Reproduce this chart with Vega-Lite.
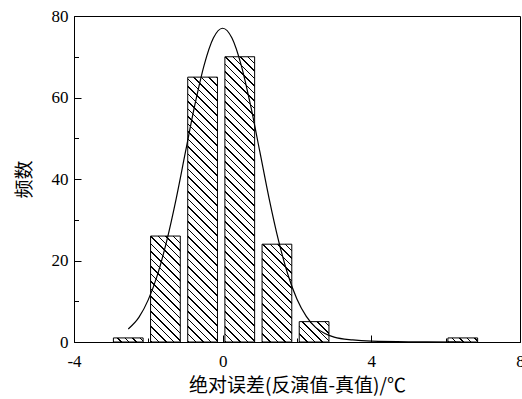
{
  "$schema": "https://vega.github.io/schema/vega-lite/v6.json",
  "width": 446,
  "height": 326,
  "autosize": {"type": "none"},
  "padding": {"left": 74, "top": 16, "right": 2, "bottom": 57},
  "background": "white",
  "config": {
    "view": {"stroke": "black", "strokeWidth": 1},
    "axis": {"grid": false, "domainColor": "black", "domainWidth": 1, "tickColor": "black", "tickWidth": 1, "labelColor": "black", "labelFont": "Liberation Serif, Times New Roman, serif", "labelFontSize": 17, "titleFont": "Noto Sans CJK SC", "titleFontSize": 19, "titleFontWeight": "normal", "titleColor": "black", "labelOverlap": false, "labelBound": false, "labelFlush": false}
  },
  "datasets": {
    "bars": [
      {"start": -2.94, "end": -2.14, "count": 1},
      {"start": -1.94, "end": -1.14, "count": 26},
      {"start": -0.94, "end": -0.14, "count": 65},
      {"start": 0.06, "end": 0.86, "count": 70},
      {"start": 1.06, "end": 1.86, "count": 24},
      {"start": 2.06, "end": 2.86, "count": 5},
      {"start": 6.06, "end": 6.86, "count": 1}
    ],
    "curve": [
      {"x": -2.54, "y": 3.2}, {"x": -2.25, "y": 6.1}, {"x": -2.0, "y": 10.4}, {"x": -1.75, "y": 16.6},
      {"x": -1.5, "y": 25.0}, {"x": -1.25, "y": 35.2}, {"x": -1.0, "y": 46.7}, {"x": -0.75, "y": 58.1},
      {"x": -0.5, "y": 67.9}, {"x": -0.25, "y": 74.6}, {"x": 0, "y": 77}, {"x": 0.25, "y": 74.6},
      {"x": 0.5, "y": 67.9}, {"x": 0.75, "y": 58.1}, {"x": 1.0, "y": 46.7}, {"x": 1.25, "y": 35.2},
      {"x": 1.5, "y": 25.0}, {"x": 1.75, "y": 16.7}, {"x": 2.0, "y": 10.5}, {"x": 2.25, "y": 6.3},
      {"x": 2.5, "y": 3.6}, {"x": 2.75, "y": 2.1}, {"x": 3.0, "y": 1.2}, {"x": 3.5, "y": 0.5},
      {"x": 4.0, "y": 0.2}, {"x": 5.0, "y": 0.05}, {"x": 6.4, "y": 0}
    ]
  },
  "layer": [
    {
      "data": {"name": "bars"},
      "mark": {"type": "rect", "stroke": "black", "strokeWidth": 1},
      "encoding": {
        "x": {"field": "start", "type": "quantitative", "scale": {"domain": [-4, 8], "nice": false, "zero": false},
          "axis": {"orient": "bottom", "values": [-4, 0, 4, 8], "tickSize": -7, "labelPadding": 18, "labelExpr": "'' + datum.value", "title": "绝对误差(反演值-真值)/℃", "titleX": 223, "titleY": 43, "titleBaseline": "middle", "titleAlign": "center", "titleAnchor": null}},
        "x2": {"field": "end"},
        "y": {"field": "count", "type": "quantitative", "scale": {"domain": [0, 80], "nice": false},
          "axis": {"orient": "left", "values": [0, 20, 40, 60, 80], "tickSize": -7, "labelPadding": 13, "labelExpr": "'' + datum.value", "title": "频数", "titleX": -50, "titleY": 163, "titleBaseline": "middle", "titleAlign": "center", "titleAngle": -90, "titleAnchor": null}},
        "y2": {"datum": 0},
        "fill": {
          "condition": [
            {"test": "datum.count == 1", "value": {"gradient": "linear", "x1": 0, "y1": 1, "x2": 1.23808, "y2": 0.8303, "stops": [
              {"offset":0,"color":"#000"},{"offset":0.04,"color":"#000"},{"offset":0.04,"color":"#fff"},{"offset":0.2,"color":"#fff"},{"offset":0.2,"color":"#000"},{"offset":0.24,"color":"#000"},{"offset":0.24,"color":"#fff"},{"offset":0.4,"color":"#fff"},{"offset":0.4,"color":"#000"},{"offset":0.44,"color":"#000"},{"offset":0.44,"color":"#fff"},{"offset":0.6,"color":"#fff"},{"offset":0.6,"color":"#000"},{"offset":0.64,"color":"#000"},{"offset":0.64,"color":"#fff"},{"offset":0.8,"color":"#fff"},{"offset":0.8,"color":"#000"},{"offset":0.84,"color":"#000"},{"offset":0.84,"color":"#fff"}]}},
            {"test": "datum.count == 5", "value": {"gradient": "linear", "x1": 0, "y1": 1, "x2": 1.71649, "y2": -0.17637, "stops": [
              {"offset":0,"color":"#000"},{"offset":0.02,"color":"#000"},{"offset":0.02,"color":"#fff"},{"offset":0.1,"color":"#fff"},{"offset":0.1,"color":"#000"},{"offset":0.12,"color":"#000"},{"offset":0.12,"color":"#fff"},{"offset":0.2,"color":"#fff"},{"offset":0.2,"color":"#000"},{"offset":0.22,"color":"#000"},{"offset":0.22,"color":"#fff"},{"offset":0.3,"color":"#fff"},{"offset":0.3,"color":"#000"},{"offset":0.32,"color":"#000"},{"offset":0.32,"color":"#fff"},{"offset":0.4,"color":"#fff"},{"offset":0.4,"color":"#000"},{"offset":0.42,"color":"#000"},{"offset":0.42,"color":"#fff"},{"offset":0.5,"color":"#fff"},{"offset":0.5,"color":"#000"},{"offset":0.52,"color":"#000"},{"offset":0.52,"color":"#fff"},{"offset":0.6,"color":"#fff"},{"offset":0.6,"color":"#000"},{"offset":0.62,"color":"#000"},{"offset":0.62,"color":"#fff"},{"offset":0.7,"color":"#fff"},{"offset":0.7,"color":"#000"},{"offset":0.72,"color":"#000"},{"offset":0.72,"color":"#fff"},{"offset":0.8,"color":"#fff"},{"offset":0.8,"color":"#000"},{"offset":0.82,"color":"#000"},{"offset":0.82,"color":"#fff"},{"offset":0.9,"color":"#fff"},{"offset":0.9,"color":"#000"},{"offset":0.92,"color":"#000"},{"offset":0.92,"color":"#fff"}]}},
            {"test": "datum.count == 26", "value": {"gradient": "linear", "x1": 0, "y1": 1, "x2": 0.36828, "y2": -0.31243, "stops": [
              {"offset":0,"color":"#000"},{"offset":0.01,"color":"#000"},{"offset":0.01,"color":"#fff"},{"offset":0.05,"color":"#fff"},{"offset":0.05,"color":"#000"},{"offset":0.06,"color":"#000"},{"offset":0.06,"color":"#fff"},{"offset":0.1,"color":"#fff"},{"offset":0.1,"color":"#000"},{"offset":0.11,"color":"#000"},{"offset":0.11,"color":"#fff"},{"offset":0.15,"color":"#fff"},{"offset":0.15,"color":"#000"},{"offset":0.16,"color":"#000"},{"offset":0.16,"color":"#fff"},{"offset":0.2,"color":"#fff"},{"offset":0.2,"color":"#000"},{"offset":0.21,"color":"#000"},{"offset":0.21,"color":"#fff"},{"offset":0.25,"color":"#fff"},{"offset":0.25,"color":"#000"},{"offset":0.26,"color":"#000"},{"offset":0.26,"color":"#fff"},{"offset":0.3,"color":"#fff"},{"offset":0.3,"color":"#000"},{"offset":0.31,"color":"#000"},{"offset":0.31,"color":"#fff"},{"offset":0.35,"color":"#fff"},{"offset":0.35,"color":"#000"},{"offset":0.36,"color":"#000"},{"offset":0.36,"color":"#fff"},{"offset":0.4,"color":"#fff"},{"offset":0.4,"color":"#000"},{"offset":0.41,"color":"#000"},{"offset":0.41,"color":"#fff"},{"offset":0.45,"color":"#fff"},{"offset":0.45,"color":"#000"},{"offset":0.46,"color":"#000"},{"offset":0.46,"color":"#fff"},{"offset":0.5,"color":"#fff"},{"offset":0.5,"color":"#000"},{"offset":0.51,"color":"#000"},{"offset":0.51,"color":"#fff"},{"offset":0.55,"color":"#fff"},{"offset":0.55,"color":"#000"},{"offset":0.56,"color":"#000"},{"offset":0.56,"color":"#fff"},{"offset":0.6,"color":"#fff"},{"offset":0.6,"color":"#000"},{"offset":0.61,"color":"#000"},{"offset":0.61,"color":"#fff"},{"offset":0.65,"color":"#fff"},{"offset":0.65,"color":"#000"},{"offset":0.66,"color":"#000"},{"offset":0.66,"color":"#fff"},{"offset":0.7,"color":"#fff"},{"offset":0.7,"color":"#000"},{"offset":0.71,"color":"#000"},{"offset":0.71,"color":"#fff"},{"offset":0.75,"color":"#fff"},{"offset":0.75,"color":"#000"},{"offset":0.76,"color":"#000"},{"offset":0.76,"color":"#fff"},{"offset":0.8,"color":"#fff"},{"offset":0.8,"color":"#000"},{"offset":0.81,"color":"#000"},{"offset":0.81,"color":"#fff"},{"offset":0.85,"color":"#fff"},{"offset":0.85,"color":"#000"},{"offset":0.86,"color":"#000"},{"offset":0.86,"color":"#fff"},{"offset":0.9,"color":"#fff"},{"offset":0.9,"color":"#000"},{"offset":0.91,"color":"#000"},{"offset":0.91,"color":"#fff"},{"offset":0.95,"color":"#fff"},{"offset":0.95,"color":"#000"},{"offset":0.96,"color":"#000"},{"offset":0.96,"color":"#fff"}]}},
            {"test": "datum.count == 24", "value": {"gradient": "linear", "x1": 0, "y1": 1, "x2": 0.4268, "y2": -0.404, "stops": [
              {"offset":0,"color":"#000"},{"offset":0.01,"color":"#000"},{"offset":0.01,"color":"#fff"},{"offset":0.05,"color":"#fff"},{"offset":0.05,"color":"#000"},{"offset":0.06,"color":"#000"},{"offset":0.06,"color":"#fff"},{"offset":0.1,"color":"#fff"},{"offset":0.1,"color":"#000"},{"offset":0.11,"color":"#000"},{"offset":0.11,"color":"#fff"},{"offset":0.15,"color":"#fff"},{"offset":0.15,"color":"#000"},{"offset":0.16,"color":"#000"},{"offset":0.16,"color":"#fff"},{"offset":0.2,"color":"#fff"},{"offset":0.2,"color":"#000"},{"offset":0.21,"color":"#000"},{"offset":0.21,"color":"#fff"},{"offset":0.25,"color":"#fff"},{"offset":0.25,"color":"#000"},{"offset":0.26,"color":"#000"},{"offset":0.26,"color":"#fff"},{"offset":0.3,"color":"#fff"},{"offset":0.3,"color":"#000"},{"offset":0.31,"color":"#000"},{"offset":0.31,"color":"#fff"},{"offset":0.35,"color":"#fff"},{"offset":0.35,"color":"#000"},{"offset":0.36,"color":"#000"},{"offset":0.36,"color":"#fff"},{"offset":0.4,"color":"#fff"},{"offset":0.4,"color":"#000"},{"offset":0.41,"color":"#000"},{"offset":0.41,"color":"#fff"},{"offset":0.45,"color":"#fff"},{"offset":0.45,"color":"#000"},{"offset":0.46,"color":"#000"},{"offset":0.46,"color":"#fff"},{"offset":0.5,"color":"#fff"},{"offset":0.5,"color":"#000"},{"offset":0.51,"color":"#000"},{"offset":0.51,"color":"#fff"},{"offset":0.55,"color":"#fff"},{"offset":0.55,"color":"#000"},{"offset":0.56,"color":"#000"},{"offset":0.56,"color":"#fff"},{"offset":0.6,"color":"#fff"},{"offset":0.6,"color":"#000"},{"offset":0.61,"color":"#000"},{"offset":0.61,"color":"#fff"},{"offset":0.65,"color":"#fff"},{"offset":0.65,"color":"#000"},{"offset":0.66,"color":"#000"},{"offset":0.66,"color":"#fff"},{"offset":0.7,"color":"#fff"},{"offset":0.7,"color":"#000"},{"offset":0.71,"color":"#000"},{"offset":0.71,"color":"#fff"},{"offset":0.75,"color":"#fff"},{"offset":0.75,"color":"#000"},{"offset":0.76,"color":"#000"},{"offset":0.76,"color":"#fff"},{"offset":0.8,"color":"#fff"},{"offset":0.8,"color":"#000"},{"offset":0.81,"color":"#000"},{"offset":0.81,"color":"#fff"},{"offset":0.85,"color":"#fff"},{"offset":0.85,"color":"#000"},{"offset":0.86,"color":"#000"},{"offset":0.86,"color":"#fff"},{"offset":0.9,"color":"#fff"},{"offset":0.9,"color":"#000"},{"offset":0.91,"color":"#000"},{"offset":0.91,"color":"#fff"},{"offset":0.95,"color":"#fff"},{"offset":0.95,"color":"#000"},{"offset":0.96,"color":"#000"},{"offset":0.96,"color":"#fff"}]}},
            {"test": "datum.count == 65", "value": {"gradient": "linear", "x1": 0, "y1": 1, "x2": 0.125544, "y2": -0.11852, "stops": [
              {"offset":0,"color":"#000"},{"offset":0.005,"color":"#000"},{"offset":0.005,"color":"#fff"},{"offset":0.025,"color":"#fff"},{"offset":0.025,"color":"#000"},{"offset":0.03,"color":"#000"},{"offset":0.03,"color":"#fff"},{"offset":0.05,"color":"#fff"},{"offset":0.05,"color":"#000"},{"offset":0.055,"color":"#000"},{"offset":0.055,"color":"#fff"},{"offset":0.075,"color":"#fff"},{"offset":0.075,"color":"#000"},{"offset":0.08,"color":"#000"},{"offset":0.08,"color":"#fff"},{"offset":0.1,"color":"#fff"},{"offset":0.1,"color":"#000"},{"offset":0.105,"color":"#000"},{"offset":0.105,"color":"#fff"},{"offset":0.125,"color":"#fff"},{"offset":0.125,"color":"#000"},{"offset":0.13,"color":"#000"},{"offset":0.13,"color":"#fff"},{"offset":0.15,"color":"#fff"},{"offset":0.15,"color":"#000"},{"offset":0.155,"color":"#000"},{"offset":0.155,"color":"#fff"},{"offset":0.175,"color":"#fff"},{"offset":0.175,"color":"#000"},{"offset":0.18,"color":"#000"},{"offset":0.18,"color":"#fff"},{"offset":0.2,"color":"#fff"},{"offset":0.2,"color":"#000"},{"offset":0.205,"color":"#000"},{"offset":0.205,"color":"#fff"},{"offset":0.225,"color":"#fff"},{"offset":0.225,"color":"#000"},{"offset":0.23,"color":"#000"},{"offset":0.23,"color":"#fff"},{"offset":0.25,"color":"#fff"},{"offset":0.25,"color":"#000"},{"offset":0.255,"color":"#000"},{"offset":0.255,"color":"#fff"},{"offset":0.275,"color":"#fff"},{"offset":0.275,"color":"#000"},{"offset":0.28,"color":"#000"},{"offset":0.28,"color":"#fff"},{"offset":0.3,"color":"#fff"},{"offset":0.3,"color":"#000"},{"offset":0.305,"color":"#000"},{"offset":0.305,"color":"#fff"},{"offset":0.325,"color":"#fff"},{"offset":0.325,"color":"#000"},{"offset":0.33,"color":"#000"},{"offset":0.33,"color":"#fff"},{"offset":0.35,"color":"#fff"},{"offset":0.35,"color":"#000"},{"offset":0.355,"color":"#000"},{"offset":0.355,"color":"#fff"},{"offset":0.375,"color":"#fff"},{"offset":0.375,"color":"#000"},{"offset":0.38,"color":"#000"},{"offset":0.38,"color":"#fff"},{"offset":0.4,"color":"#fff"},{"offset":0.4,"color":"#000"},{"offset":0.405,"color":"#000"},{"offset":0.405,"color":"#fff"},{"offset":0.425,"color":"#fff"},{"offset":0.425,"color":"#000"},{"offset":0.43,"color":"#000"},{"offset":0.43,"color":"#fff"},{"offset":0.45,"color":"#fff"},{"offset":0.45,"color":"#000"},{"offset":0.455,"color":"#000"},{"offset":0.455,"color":"#fff"},{"offset":0.475,"color":"#fff"},{"offset":0.475,"color":"#000"},{"offset":0.48,"color":"#000"},{"offset":0.48,"color":"#fff"},{"offset":0.5,"color":"#fff"},{"offset":0.5,"color":"#000"},{"offset":0.505,"color":"#000"},{"offset":0.505,"color":"#fff"},{"offset":0.525,"color":"#fff"},{"offset":0.525,"color":"#000"},{"offset":0.53,"color":"#000"},{"offset":0.53,"color":"#fff"},{"offset":0.55,"color":"#fff"},{"offset":0.55,"color":"#000"},{"offset":0.555,"color":"#000"},{"offset":0.555,"color":"#fff"},{"offset":0.575,"color":"#fff"},{"offset":0.575,"color":"#000"},{"offset":0.58,"color":"#000"},{"offset":0.58,"color":"#fff"},{"offset":0.6,"color":"#fff"},{"offset":0.6,"color":"#000"},{"offset":0.605,"color":"#000"},{"offset":0.605,"color":"#fff"},{"offset":0.625,"color":"#fff"},{"offset":0.625,"color":"#000"},{"offset":0.63,"color":"#000"},{"offset":0.63,"color":"#fff"},{"offset":0.65,"color":"#fff"},{"offset":0.65,"color":"#000"},{"offset":0.655,"color":"#000"},{"offset":0.655,"color":"#fff"},{"offset":0.675,"color":"#fff"},{"offset":0.675,"color":"#000"},{"offset":0.68,"color":"#000"},{"offset":0.68,"color":"#fff"},{"offset":0.7,"color":"#fff"},{"offset":0.7,"color":"#000"},{"offset":0.705,"color":"#000"},{"offset":0.705,"color":"#fff"},{"offset":0.725,"color":"#fff"},{"offset":0.725,"color":"#000"},{"offset":0.73,"color":"#000"},{"offset":0.73,"color":"#fff"},{"offset":0.75,"color":"#fff"},{"offset":0.75,"color":"#000"},{"offset":0.755,"color":"#000"},{"offset":0.755,"color":"#fff"},{"offset":0.775,"color":"#fff"},{"offset":0.775,"color":"#000"},{"offset":0.78,"color":"#000"},{"offset":0.78,"color":"#fff"},{"offset":0.8,"color":"#fff"},{"offset":0.8,"color":"#000"},{"offset":0.805,"color":"#000"},{"offset":0.805,"color":"#fff"},{"offset":0.825,"color":"#fff"},{"offset":0.825,"color":"#000"},{"offset":0.83,"color":"#000"},{"offset":0.83,"color":"#fff"},{"offset":0.85,"color":"#fff"},{"offset":0.85,"color":"#000"},{"offset":0.855,"color":"#000"},{"offset":0.855,"color":"#fff"},{"offset":0.875,"color":"#fff"},{"offset":0.875,"color":"#000"},{"offset":0.88,"color":"#000"},{"offset":0.88,"color":"#fff"},{"offset":0.9,"color":"#fff"},{"offset":0.9,"color":"#000"},{"offset":0.905,"color":"#000"},{"offset":0.905,"color":"#fff"},{"offset":0.925,"color":"#fff"},{"offset":0.925,"color":"#000"},{"offset":0.93,"color":"#000"},{"offset":0.93,"color":"#fff"},{"offset":0.95,"color":"#fff"},{"offset":0.95,"color":"#000"},{"offset":0.955,"color":"#000"},{"offset":0.955,"color":"#fff"},{"offset":0.975,"color":"#fff"},{"offset":0.975,"color":"#000"},{"offset":0.98,"color":"#000"},{"offset":0.98,"color":"#fff"}]}},
            {"test": "datum.count == 70", "value": {"gradient": "linear", "x1": 0, "y1": 1, "x2": 0.135545, "y2": -0.30051, "stops": [
              {"offset":0,"color":"#000"},{"offset":0.004,"color":"#000"},{"offset":0.004,"color":"#fff"},{"offset":0.02,"color":"#fff"},{"offset":0.02,"color":"#000"},{"offset":0.024,"color":"#000"},{"offset":0.024,"color":"#fff"},{"offset":0.04,"color":"#fff"},{"offset":0.04,"color":"#000"},{"offset":0.044,"color":"#000"},{"offset":0.044,"color":"#fff"},{"offset":0.06,"color":"#fff"},{"offset":0.06,"color":"#000"},{"offset":0.064,"color":"#000"},{"offset":0.064,"color":"#fff"},{"offset":0.08,"color":"#fff"},{"offset":0.08,"color":"#000"},{"offset":0.084,"color":"#000"},{"offset":0.084,"color":"#fff"},{"offset":0.1,"color":"#fff"},{"offset":0.1,"color":"#000"},{"offset":0.104,"color":"#000"},{"offset":0.104,"color":"#fff"},{"offset":0.12,"color":"#fff"},{"offset":0.12,"color":"#000"},{"offset":0.124,"color":"#000"},{"offset":0.124,"color":"#fff"},{"offset":0.14,"color":"#fff"},{"offset":0.14,"color":"#000"},{"offset":0.144,"color":"#000"},{"offset":0.144,"color":"#fff"},{"offset":0.16,"color":"#fff"},{"offset":0.16,"color":"#000"},{"offset":0.164,"color":"#000"},{"offset":0.164,"color":"#fff"},{"offset":0.18,"color":"#fff"},{"offset":0.18,"color":"#000"},{"offset":0.184,"color":"#000"},{"offset":0.184,"color":"#fff"},{"offset":0.2,"color":"#fff"},{"offset":0.2,"color":"#000"},{"offset":0.204,"color":"#000"},{"offset":0.204,"color":"#fff"},{"offset":0.22,"color":"#fff"},{"offset":0.22,"color":"#000"},{"offset":0.224,"color":"#000"},{"offset":0.224,"color":"#fff"},{"offset":0.24,"color":"#fff"},{"offset":0.24,"color":"#000"},{"offset":0.244,"color":"#000"},{"offset":0.244,"color":"#fff"},{"offset":0.26,"color":"#fff"},{"offset":0.26,"color":"#000"},{"offset":0.264,"color":"#000"},{"offset":0.264,"color":"#fff"},{"offset":0.28,"color":"#fff"},{"offset":0.28,"color":"#000"},{"offset":0.284,"color":"#000"},{"offset":0.284,"color":"#fff"},{"offset":0.3,"color":"#fff"},{"offset":0.3,"color":"#000"},{"offset":0.304,"color":"#000"},{"offset":0.304,"color":"#fff"},{"offset":0.32,"color":"#fff"},{"offset":0.32,"color":"#000"},{"offset":0.324,"color":"#000"},{"offset":0.324,"color":"#fff"},{"offset":0.34,"color":"#fff"},{"offset":0.34,"color":"#000"},{"offset":0.344,"color":"#000"},{"offset":0.344,"color":"#fff"},{"offset":0.36,"color":"#fff"},{"offset":0.36,"color":"#000"},{"offset":0.364,"color":"#000"},{"offset":0.364,"color":"#fff"},{"offset":0.38,"color":"#fff"},{"offset":0.38,"color":"#000"},{"offset":0.384,"color":"#000"},{"offset":0.384,"color":"#fff"},{"offset":0.4,"color":"#fff"},{"offset":0.4,"color":"#000"},{"offset":0.404,"color":"#000"},{"offset":0.404,"color":"#fff"},{"offset":0.42,"color":"#fff"},{"offset":0.42,"color":"#000"},{"offset":0.424,"color":"#000"},{"offset":0.424,"color":"#fff"},{"offset":0.44,"color":"#fff"},{"offset":0.44,"color":"#000"},{"offset":0.444,"color":"#000"},{"offset":0.444,"color":"#fff"},{"offset":0.46,"color":"#fff"},{"offset":0.46,"color":"#000"},{"offset":0.464,"color":"#000"},{"offset":0.464,"color":"#fff"},{"offset":0.48,"color":"#fff"},{"offset":0.48,"color":"#000"},{"offset":0.484,"color":"#000"},{"offset":0.484,"color":"#fff"},{"offset":0.5,"color":"#fff"},{"offset":0.5,"color":"#000"},{"offset":0.504,"color":"#000"},{"offset":0.504,"color":"#fff"},{"offset":0.52,"color":"#fff"},{"offset":0.52,"color":"#000"},{"offset":0.524,"color":"#000"},{"offset":0.524,"color":"#fff"},{"offset":0.54,"color":"#fff"},{"offset":0.54,"color":"#000"},{"offset":0.544,"color":"#000"},{"offset":0.544,"color":"#fff"},{"offset":0.56,"color":"#fff"},{"offset":0.56,"color":"#000"},{"offset":0.564,"color":"#000"},{"offset":0.564,"color":"#fff"},{"offset":0.58,"color":"#fff"},{"offset":0.58,"color":"#000"},{"offset":0.584,"color":"#000"},{"offset":0.584,"color":"#fff"},{"offset":0.6,"color":"#fff"},{"offset":0.6,"color":"#000"},{"offset":0.604,"color":"#000"},{"offset":0.604,"color":"#fff"},{"offset":0.62,"color":"#fff"},{"offset":0.62,"color":"#000"},{"offset":0.624,"color":"#000"},{"offset":0.624,"color":"#fff"},{"offset":0.64,"color":"#fff"},{"offset":0.64,"color":"#000"},{"offset":0.644,"color":"#000"},{"offset":0.644,"color":"#fff"},{"offset":0.66,"color":"#fff"},{"offset":0.66,"color":"#000"},{"offset":0.664,"color":"#000"},{"offset":0.664,"color":"#fff"},{"offset":0.68,"color":"#fff"},{"offset":0.68,"color":"#000"},{"offset":0.684,"color":"#000"},{"offset":0.684,"color":"#fff"},{"offset":0.7,"color":"#fff"},{"offset":0.7,"color":"#000"},{"offset":0.704,"color":"#000"},{"offset":0.704,"color":"#fff"},{"offset":0.72,"color":"#fff"},{"offset":0.72,"color":"#000"},{"offset":0.724,"color":"#000"},{"offset":0.724,"color":"#fff"},{"offset":0.74,"color":"#fff"},{"offset":0.74,"color":"#000"},{"offset":0.744,"color":"#000"},{"offset":0.744,"color":"#fff"},{"offset":0.76,"color":"#fff"},{"offset":0.76,"color":"#000"},{"offset":0.764,"color":"#000"},{"offset":0.764,"color":"#fff"},{"offset":0.78,"color":"#fff"},{"offset":0.78,"color":"#000"},{"offset":0.784,"color":"#000"},{"offset":0.784,"color":"#fff"},{"offset":0.8,"color":"#fff"},{"offset":0.8,"color":"#000"},{"offset":0.804,"color":"#000"},{"offset":0.804,"color":"#fff"},{"offset":0.82,"color":"#fff"},{"offset":0.82,"color":"#000"},{"offset":0.824,"color":"#000"},{"offset":0.824,"color":"#fff"},{"offset":0.84,"color":"#fff"},{"offset":0.84,"color":"#000"},{"offset":0.844,"color":"#000"},{"offset":0.844,"color":"#fff"},{"offset":0.86,"color":"#fff"},{"offset":0.86,"color":"#000"},{"offset":0.864,"color":"#000"},{"offset":0.864,"color":"#fff"}]}}
          ],
          "value": "white"
        }
      }
    },
    {
      "data": {"name": "curve"},
      "mark": {"type": "line", "color": "black", "strokeWidth": 1.2, "interpolate": "monotone"},
      "encoding": {
        "x": {"field": "x", "type": "quantitative", "scale": {"domain": [-4, 8], "nice": false, "zero": false},
          "axis": {"orient": "bottom", "values": [-2, 2, 6], "tickSize": -4, "labels": false, "domain": false, "title": null}},
        "y": {"field": "y", "type": "quantitative", "scale": {"domain": [0, 80], "nice": false},
          "axis": {"orient": "left", "values": [10, 30, 50, 70], "tickSize": -4.5, "labels": false, "domain": false, "title": null}}
      }
    }
  ],
  "resolve": {"axis": {"x": "independent", "y": "independent"}}
}
